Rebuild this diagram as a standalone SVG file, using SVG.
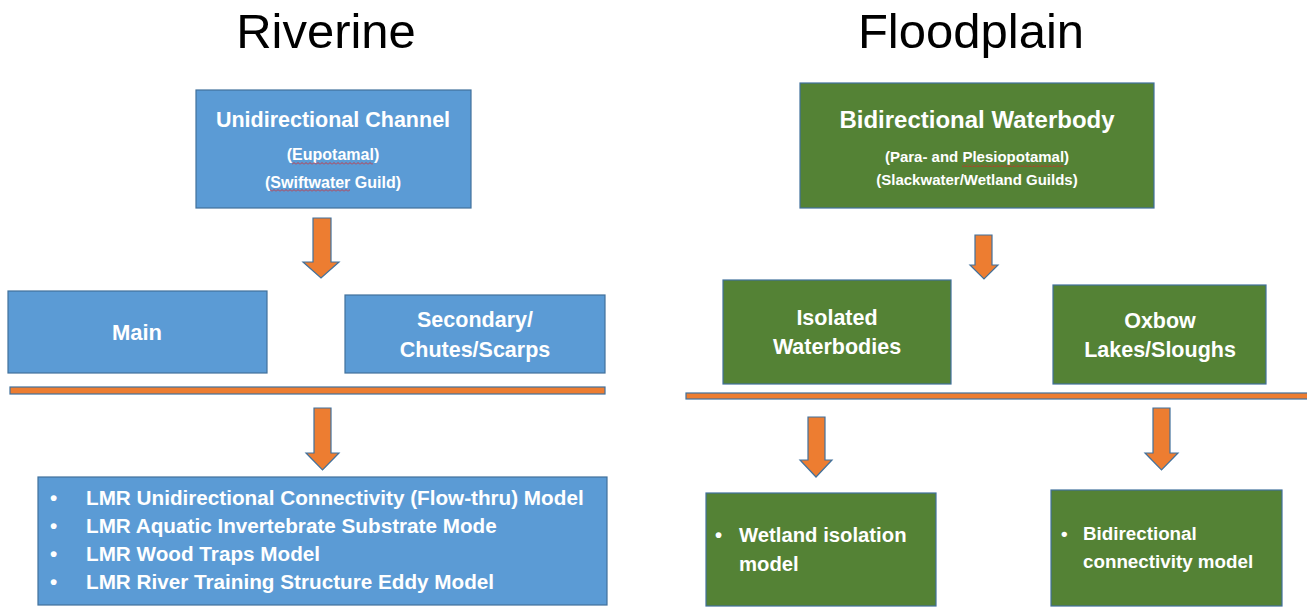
<svg xmlns="http://www.w3.org/2000/svg" width="1307" height="607" viewBox="0 0 1307 607">
<defs>
<style>
.title{font-family:"Liberation Sans",Arial,sans-serif;font-size:49px;fill:#000;text-anchor:middle}
.blue{fill:#5B9BD5;stroke:#41719C;stroke-width:1.2}
.green{fill:#548235;stroke:#41719C;stroke-width:1.2}
.orange{fill:#ED7D31;stroke:#41719C;stroke-width:1.2}
.t{font-family:"Liberation Sans",Arial,sans-serif;font-weight:bold;fill:#fff}
.c{text-anchor:middle}
</style>
<pattern id="wavy" width="4" height="3" patternUnits="userSpaceOnUse"><path d="M0 2.5 L2 0.5 L4 2.5" fill="none" stroke="#E02020" stroke-width="0.8"/></pattern>
</defs>
<rect width="1307" height="607" fill="#fff"/>
<text class="title" x="326" y="48">Riverine</text>
<text class="title" x="971" y="48">Floodplain</text>

<g id="unidirectional">
<rect class="blue" x="196" y="90" width="275" height="118"/>
<text class="t c" x="333" y="127" font-size="21.5">Unidirectional Channel</text>
<text class="t c" x="333" y="160" font-size="16">(Eupotamal)</text>
<text class="t c" x="333" y="188" font-size="16">(Swiftwater Guild)</text>
<rect x="292" y="162" width="81" height="3" fill="url(#wavy)"/>
<rect x="270" y="189" width="80" height="3" fill="url(#wavy)"/>
</g>

<g id="bidirectional">
<rect class="green" x="800" y="83" width="354" height="125"/>
<text class="t c" x="977" y="128" font-size="24">Bidirectional Waterbody</text>
<text class="t c" x="977" y="162" font-size="15">(Para- and Plesiopotamal)</text>
<text class="t c" x="977" y="185" font-size="15">(Slackwater/Wetland Guilds)</text>
<rect x="962" y="164" width="102" height="3" fill="url(#wavy)"/>
</g>

<g id="main">
<rect class="blue" x="8" y="291" width="259" height="82"/>
<text class="t c" x="137" y="340" font-size="22">Main</text>
</g>

<g id="secondary">
<rect class="blue" x="345" y="295" width="260" height="78"/>
<text class="t c" x="475" y="327" font-size="21.5">Secondary/</text>
<text class="t c" x="475" y="357" font-size="21.5">Chutes/Scarps</text>
</g>

<g id="isolated">
<rect class="green" x="723" y="280" width="228" height="104"/>
<text class="t c" x="837" y="325" font-size="21.5">Isolated</text>
<text class="t c" x="837" y="354" font-size="21.5">Waterbodies</text>
</g>

<g id="oxbow">
<rect class="green" x="1053" y="285" width="213" height="99"/>
<text class="t c" x="1160" y="328" font-size="21.5">Oxbow</text>
<text class="t c" x="1160" y="357" font-size="21.5">Lakes/Sloughs</text>
</g>

<g id="riverine-models">
<rect class="blue" x="38" y="477" width="569" height="128"/>
<g class="t" font-size="20.7">
<text x="50" y="505">•</text><text x="86" y="505">LMR Unidirectional Connectivity (Flow-thru) Model</text>
<text x="50" y="533">•</text><text x="86" y="533">LMR Aquatic Invertebrate Substrate Mode</text>
<text x="50" y="561">•</text><text x="86" y="561">LMR Wood Traps Model</text>
<text x="50" y="589">•</text><text x="86" y="589">LMR River Training Structure Eddy Model</text>
</g>
</g>

<g id="wetland-model">
<rect class="green" x="706" y="493" width="230" height="113"/>
<g class="t" font-size="20.3">
<text x="715" y="542">•</text><text x="739" y="542">Wetland isolation</text>
<text x="739" y="571">model</text>
</g>
</g>

<g id="bidirectional-model">
<rect class="green" x="1051" y="490" width="231" height="116"/>
<g class="t" font-size="18.8">
<text x="1061" y="540">•</text><text x="1083" y="540">Bidirectional</text>
<text x="1083" y="568">connectivity model</text>
</g>
</g>

<g id="connectors">
<rect class="orange" x="10" y="387" width="595" height="7"/>
<rect class="orange" x="686" y="393" width="625" height="6"/>
<path class="orange" d="M313 218 H331 V262 H339 L321 278 L303 262 H313 Z"/>
<path class="orange" d="M975 235 H992 V265 H998 L984 279 L970 265 H975 Z"/>
<path class="orange" d="M314 408 H331 V453 H339 L322.5 470 L306 453 H314 Z"/>
<path class="orange" d="M808 417 H825 V460 H832 L816 477 L800 460 H808 Z"/>
<path class="orange" d="M1153 408 H1170 V453 H1178 L1161.5 470 L1145 453 H1153 Z"/>
</g>
</svg>
